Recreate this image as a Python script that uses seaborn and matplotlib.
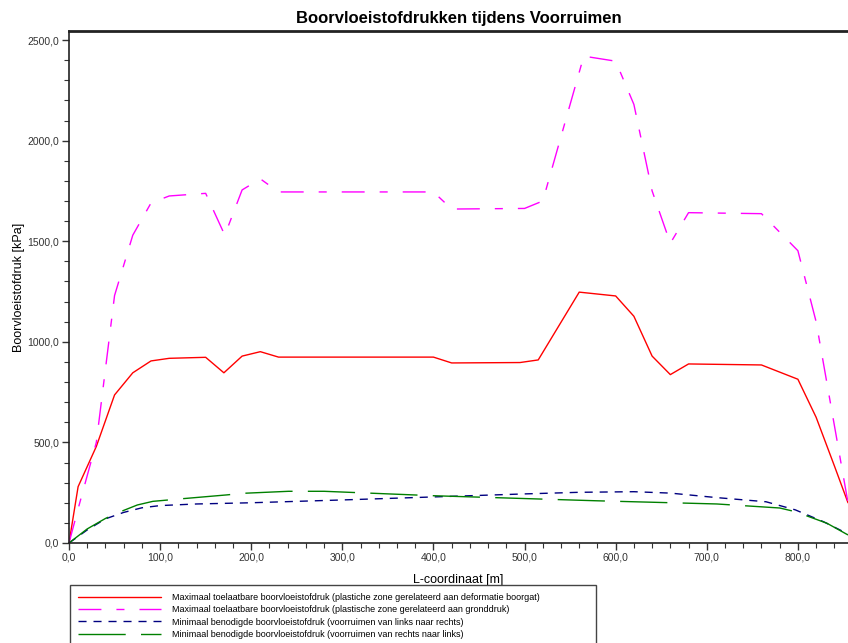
import numpy as np
import pandas as pd
import matplotlib
matplotlib.use("Agg")
import matplotlib.pyplot as plt
import seaborn as sns
from matplotlib.ticker import FuncFormatter, MultipleLocator

# ---- data ----
x_red = [0, 10, 30, 50, 70, 90, 110, 150, 170, 190, 210, 230, 400, 420, 495, 515,
         560, 600, 620, 640, 660, 680, 760, 800, 820, 840, 855]
y_red = [0, 280, 480, 736, 846, 905, 918, 923, 846, 929, 951, 924, 924, 895, 897, 910,
         1247, 1228, 1127, 929, 837, 890, 885, 814, 625, 384, 200]

x_mag = [0, 10, 30, 50, 70, 90, 110, 150, 171, 190, 210, 230, 400, 420, 500, 520,
         565, 600, 620, 640, 660, 680, 760, 800, 820, 855]
y_mag = [0, 170, 500, 1230, 1530, 1690, 1725, 1738, 1530, 1755, 1810, 1745, 1745, 1660,
         1663, 1700, 2420, 2395, 2180, 1750, 1490, 1642, 1637, 1453, 1100, 200]

x_blue = [0, 20, 40, 60, 80, 100, 140, 200, 250, 300, 400, 500, 560, 620, 660, 710,
          765, 797, 828, 855]
y_blue = [0, 65, 120, 152, 175, 186, 194, 200, 207, 214, 229, 244, 252, 255, 248, 226,
          205, 165, 106, 45]

x_green = [0, 20, 40, 60, 75, 92, 124, 173, 191, 241, 280, 400, 528, 578, 645, 711,
           780, 797, 832, 855]
y_green = [0, 70, 122, 162, 189, 207, 220, 239, 247, 257, 257, 235, 217, 210, 202, 194,
           174, 156, 98, 40]

labels = [
    "Maximaal toelaatbare boorvloeistofdruk (plastiche zone gerelateerd aan deformatie boorgat)",
    "Maximaal toelaatbare boorvloeistofdruk (plastische zone gerelateerd aan gronddruk)",
    "Minimaal benodigde boorvloeistofdruk (voorruimen van links naar rechts)",
    "Minimaal benodigde boorvloeistofdruk (voorruimen van rechts naar links)",
]
title = "Boorvloeistofdrukken tijdens Voorruimen"
xlabel = "L-coordinaat [m]"
ylabel = "Boorvloeistofdruk [kPa]"

# ---- style ----
sns.set_style("ticks")
plt.rcParams["font.family"] = ["Liberation Sans", "DejaVu Sans"]
plt.rcParams["text.color"] = "black"
plt.rcParams["axes.labelcolor"] = "black"

fig = plt.figure(figsize=(8.48, 6.43), dpi=100)
ax = fig.add_axes([69 / 848, 100 / 643, 779 / 848, 512 / 643])

series = [
    (x_red, y_red, "#ff0000", "-"),
    (x_mag, y_mag, "#ff00ff", (0, (16.5, 10.8, 5.8, 10.8))),
    (x_blue, y_blue, "#000080", (0, (5.8, 5.0))),
    (x_green, y_green, "#008000", (0, (34, 11))),
]
for (xs, ys, col, ls), lab in zip(series, labels):
    df = pd.DataFrame({"x": xs, "y": ys})
    sns.lineplot(data=df, x="x", y="y", ax=ax, color=col, linestyle=ls,
                 linewidth=1.0, estimator=None, sort=False, label=lab, legend=False)

ax.set_xlim(0, 855)
ax.set_ylim(0, 2545)

fmt = FuncFormatter(lambda v, p: f"{v:.1f}".replace(".", ","))
ax.xaxis.set_major_locator(MultipleLocator(100))
ax.xaxis.set_minor_locator(MultipleLocator(20))
ax.yaxis.set_major_locator(MultipleLocator(500))
ax.yaxis.set_minor_locator(MultipleLocator(100))
ax.xaxis.set_major_formatter(fmt)
ax.yaxis.set_major_formatter(fmt)
ax.tick_params(which="major", direction="out", length=5, width=1, color="#333333",
               labelsize=7.5, labelcolor="#333333", pad=2)
ax.tick_params(which="minor", direction="out", length=3.5, width=0.8, color="#333333")

for s in ["left", "bottom"]:
    ax.spines[s].set_linewidth(1.2)
    ax.spines[s].set_color("#222222")
ax.spines["top"].set_visible(True)
ax.spines["top"].set_linewidth(2)
ax.spines["top"].set_color("#222222")
ax.spines["right"].set_visible(False)

ax.set_title(title, fontsize=12, fontweight="bold", pad=6, color="black")
ax.set_xlabel(xlabel, fontsize=9, labelpad=8)
ax.set_ylabel(ylabel, fontsize=9, labelpad=2)

handles, labs = ax.get_legend_handles_labels()
leg = fig.legend(handles, labs, loc="upper left",
                 bbox_to_anchor=(70 / 848, 1 - 585 / 643, (596 - 70) / 848, 0.0),
                 mode="expand", fontsize=6.5, frameon=True, fancybox=False,
                 edgecolor="#444444", framealpha=1, handlelength=9.2,
                 handletextpad=1.2, labelspacing=0.38, borderpad=0.85,
                 borderaxespad=0)
leg.get_frame().set_linewidth(1.0)

fig.savefig("out.png", dpi=100)
